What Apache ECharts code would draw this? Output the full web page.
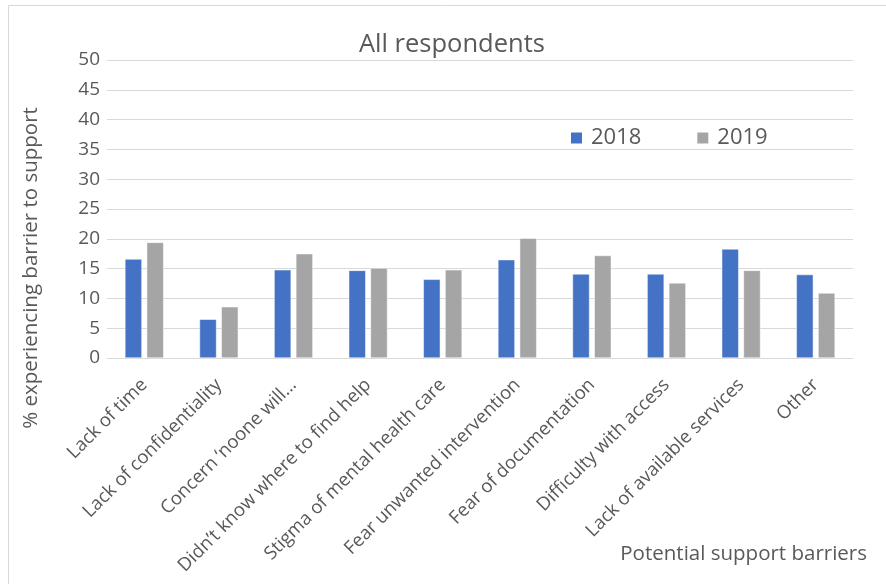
<!DOCTYPE html>
<html><head><meta charset="utf-8">
<script src="https://cdn.jsdelivr.net/npm/echarts@6/dist/echarts.min.js"></script>
<style>html,body{margin:0;padding:0;background:#fff}#c{width:886px;height:584px}</style>
</head><body><div id="c"></div>
<script>
const categories = ["Lack of time","Lack of confidentiality","Concern \u2018noone will\u2026","Didn\u2019t know where to find help","Stigma of mental health care","Fear unwanted intervention","Fear of documentation","Difficulty with access","Lack of available services","Other"];
const values2018 = [16.6, 6.5, 14.8, 14.7, 13.2, 16.5, 14.1, 14.1, 18.3, 14.0];
const values2019 = [19.4, 8.6, 17.5, 15.1, 14.8, 20.1, 17.2, 12.6, 14.7, 10.9];
const yTicks = {min: 0, max: 50, interval: 5};

const font = "'Open Sans', sans-serif";
const txt = '#595959';
const chart = echarts.init(document.getElementById('c'));
chart.setOption({
  animation: false,
  textStyle: {fontFamily: font},
  title: {text: 'All respondents', left: 354, top: 27, textStyle: {fontFamily: font, fontSize: 25.5, fontWeight: 'normal', color: txt}},
  legend: {left: 569, top: 127, padding: 0, itemWidth: 13, itemHeight: 13, itemGap: 54,
    textStyle: {fontFamily: font, fontSize: 22, color: txt, padding: [0,0,0,3]},
    data: [{name: '2018', icon: 'rect'}, {name: '2019', icon: 'rect'}]},
  grid: {left: 107, right: 33, top: 60, bottom: 226, containLabel: false},
  xAxis: {type: 'category', data: categories,
    name: 'Potential support barriers', nameLocation: 'end',
    nameTextStyle: {fontFamily: font, fontSize: 20.5, color: txt, align: 'right', verticalAlign: 'top', padding: [186, 0, 0, 0]},
    nameGap: 14,
    axisLine: {lineStyle: {color: '#d9d9d9', width: 1}}, axisTick: {show: false},
    axisLabel: {rotate: 45, fontFamily: font, fontSize: 18.5, color: txt, margin: 24, interval: 0}},
  yAxis: {type: 'value', min: yTicks.min, max: yTicks.max, interval: yTicks.interval,
    name: '% experiencing barrier to support', nameLocation: 'middle', nameGap: 65, nameRotate: 90,
    nameTextStyle: {fontFamily: font, fontSize: 20.5, color: txt, padding: [0,0,0,-118]},
    axisLine: {show: false}, axisTick: {show: false},
    axisLabel: {fontFamily: font, fontSize: 19, color: txt, margin: 7},
    splitLine: {lineStyle: {color: '#d9d9d9', width: 1}}},
  series: [
    {name: '2018', type: 'bar', data: values2018, barWidth: 17, barGap: '28%',
      itemStyle: {color: '#4472c4', borderColor: '#ffffff', borderWidth: 0.5}},
    {name: '2019', type: 'bar', data: values2019, barWidth: 17,
      itemStyle: {color: '#a5a5a5', borderColor: '#ffffff', borderWidth: 0.5}}
  ],
  graphic: [{type: 'rect', shape: {x: 8.5, y: 5.5, width: 900, height: 700}, style: {fill: 'none', stroke: '#d9d9d9', lineWidth: 1}, silent: true}]
});
</script></body></html>
